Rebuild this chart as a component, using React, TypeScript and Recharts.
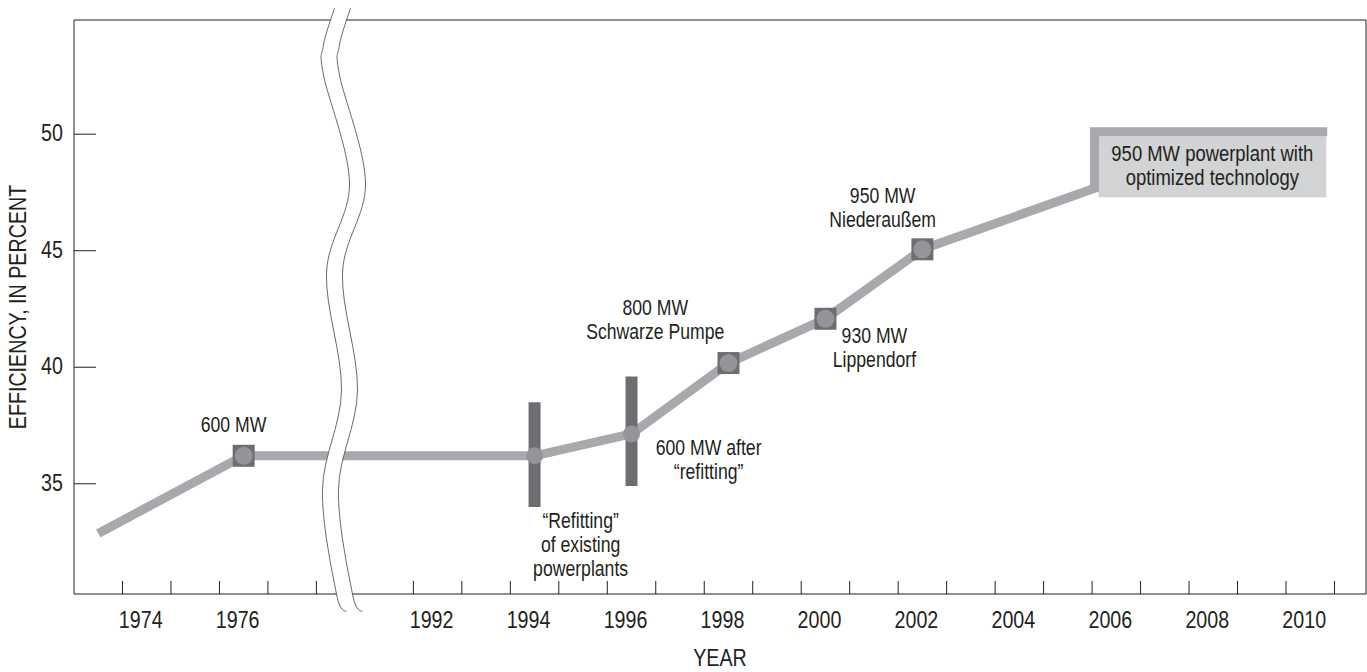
import React from "react";
import {
  ComposedChart,
  ErrorBar,
  Line,
  ReferenceArea,
  ReferenceLine,
  Scatter,
  XAxis,
  YAxis,
} from "recharts";

// no condensed face installed: squeeze Liberation Sans the way Arial Narrow does
const FONT = "'Liberation Sans', Arial, sans-serif";
const SQUEEZE = 0.82;
const INK = "#231f20";
const LINE_GRAY = "#a7a9ac";
const DARK_GRAY = "#6d6e71";
const MID_GRAY = "#939598";
const BOX_GRAY = "#d1d3d4";

// the axis is cut between 1979 and 1990: years after the cut move 12 years left
const CUT_AFTER = 1979;
const CUT_YEARS = 12;
const toAxis = (year: number) => (year > CUT_AFTER ? year - CUT_YEARS : year);

// efficiency line (last three points trace the bracket around the 2006+ box)
const lineYears = [1973, 1976, 1994, 1996, 1998, 2000, 2002, 2005.55, 2005.55, 2010.35];
const lineValues = [32.87, 36.2, 36.2, 37.14, 40.18, 42.08, 45.06, 47.68, 50.1, 50.1];

// new plants (square markers)
const plantYears = [1976, 1998, 2000, 2002];
const plantValues = [36.2, 40.18, 42.08, 45.06];

// refitting (circle markers with range bars)
const refitYears = [1994, 1996];
const refitValues = [36.2, 37.14];
const refitLow = [34.0, 34.9];
const refitHigh = [38.5, 39.6];

// shaded box for the optimized 950 MW plant
const boxYears = [2005.63, 2010.33];
const boxValues = [47.29, 49.91];

const yTicks = [35, 40, 45, 50];
const yearLabels = [1974, 1976, 1992, 1994, 1996, 1998, 2000, 2002, 2004, 2006, 2008, 2010];
const yearMarks = [
  1974, 1975, 1976, 1977, 1978, 1992, 1993, 1994, 1995, 1996, 1997, 1998, 1999, 2000, 2001,
  2002, 2003, 2004, 2005, 2006, 2007, 2008, 2009, 2010, 2011,
];

const noteYears = [1975.79, 1996.49, 2001.18, 2001.01, 1997.59, 1994.95, 2007.98];
const noteValues = [37.54, 42.57, 47.38, 41.37, 36.55, 33.42, 49.2];
const noteTexts = [
  ["600 MW"],
  ["800 MW", "Schwarze Pumpe"],
  ["950 MW", "Niederaußem"],
  ["930 MW", "Lippendorf"],
  ["600 MW after", "\u201crefitting\u201d"],
  ["\u201cRefitting\u201d", "of existing", "powerplants"],
  ["950 MW powerplant with", "optimized technology"],
];

const X_DOMAIN: [number, number] = [1972.5, 1999.15];
const Y_DOMAIN: [number, number] = [30.27, 54.9];
const BREAK_AT = 1978.1;

const lineData = lineYears.map((y, i) => ({ x: toAxis(y), y: lineValues[i] }));
const plantData = plantYears.map((y, i) => ({ x: toAxis(y), y: plantValues[i] }));
const refitData = refitYears.map((y, i) => ({
  x: toAxis(y),
  y: refitValues[i],
  err: [refitValues[i] - refitLow[i], refitHigh[i] - refitValues[i]],
}));
const noteData = noteYears.map((y, i) => ({ x: toAxis(y), y: noteValues[i], lines: noteTexts[i] }));

const labelByTick = new Map(yearLabels.map((y) => [toAxis(y), String(y)]));
const xTicks = [...yearMarks.map((y) => toAxis(y) - 0.5), ...yearLabels.map(toAxis)];

const Narrow = ({ x, y, size, anchor = "middle", rotate = 0, children }: any) => (
  <text
    transform={`translate(${x} ${y}) rotate(${rotate}) scale(${SQUEEZE} 1)`}
    x={0}
    y={0}
    textAnchor={anchor}
    dominantBaseline="central"
    fontSize={size}
    fontFamily={FONT}
    fill={INK}
  >
    {children}
  </text>
);

const XTick = ({ x, y, payload }: any) => {
  const v = payload.value;
  if (Number.isInteger(v)) {
    return (
      <Narrow x={x - 6} y={y + 26} size={24}>
        {labelByTick.get(v)}
      </Narrow>
    );
  }
  return <line x1={x} x2={x} y1={y} y2={y - 13} stroke={INK} strokeWidth={1} />;
};

const LeftTick = ({ x, y, payload }: any) => (
  <g>
    <line x1={x} x2={x + 22} y1={y} y2={y} stroke={INK} strokeWidth={1} />
    <Narrow x={x - 11} y={y - 1} size={24} anchor="end">
      {payload.value}
    </Narrow>
  </g>
);

const RightTick = ({ x, y }: any) => <line x1={x - 21} x2={x} y1={y} y2={y} stroke={INK} strokeWidth={1} />;

const YTitle = ({ viewBox }: any) => (
  <Narrow x={viewBox.x + 18} y={viewBox.y + viewBox.height / 2} size={24} rotate={-90}>
    EFFICIENCY, IN PERCENT
  </Narrow>
);

const XTitle = ({ viewBox }: any) => (
  <Narrow x={viewBox.x + viewBox.width / 2} y={viewBox.y + 64} size={24}>
    YEAR
  </Narrow>
);

const PlantMark = ({ cx, cy }: any) => (
  <g>
    <rect x={cx - 11} y={cy - 11} width={22} height={22} fill={DARK_GRAY} />
    <circle cx={cx} cy={cy} r={9} fill={MID_GRAY} />
  </g>
);

const RefitMark = ({ cx, cy }: any) => <circle cx={cx} cy={cy} r={8.5} fill={MID_GRAY} />;

const NoteText = ({ cx, cy, payload }: any) => {
  const big = payload.lines[0].length > 15;
  return (
    <g>
      {payload.lines.map((t: string, i: number) => (
        <Narrow key={i} x={cx} y={cy + i * (big ? 23.5 : 24)} size={big ? 22.5 : 21.5}>
          {t}
        </Narrow>
      ))}
    </g>
  );
};

// wavy double line marking the axis break (px offsets from the break line top)
const waveDx = [-3, -14, -14, 12, -11, 4, -15, -1, 9];
const waveDy = [-12, 25, 55, 163, 253, 370, 469, 574, 592];
const WAVE_GAP = 16;

const smooth = (pts: number[][]) => {
  let d = `M${pts[0][0]},${pts[0][1]}`;
  for (let i = 0; i < pts.length - 1; i++) {
    const p0 = pts[i - 1] ?? pts[i];
    const p1 = pts[i];
    const p2 = pts[i + 1];
    const p3 = pts[i + 2] ?? p2;
    const c1 = [p1[0] + (p2[0] - p0[0]) / 6, p1[1] + (p2[1] - p0[1]) / 6];
    const c2 = [p2[0] - (p3[0] - p1[0]) / 6, p2[1] - (p3[1] - p1[1]) / 6];
    d += ` C${c1[0]},${c1[1]} ${c2[0]},${c2[1]} ${p2[0]},${p2[1]}`;
  }
  return d;
};

const BreakShape = (props: any) => {
  const x0 = props.x1;
  const top = Math.min(props.y1, props.y2);
  const left = waveDx.map((dx, i) => [x0 + dx - WAVE_GAP / 2, top + waveDy[i]]);
  const right = waveDx.map((dx, i) => [x0 + dx + WAVE_GAP / 2, top + waveDy[i]]);
  const leftPath = smooth(left);
  const rightPath = smooth(right);
  const back = smooth([...right].reverse()).replace(/^M/, "L");
  return (
    <g>
      <path d={`${leftPath} ${back} Z`} fill="#fff" stroke="none" />
      <path d={leftPath} fill="none" stroke="#444" strokeWidth={0.8} />
      <path d={rightPath} fill="none" stroke="#444" strokeWidth={0.8} />
    </g>
  );
};

export default function App() {
  return (
    <div style={{ position: "absolute", left: 0, top: 0, background: "#fff" }}>
      <ComposedChart width={1367} height={672} margin={{ top: 20, right: 1, bottom: 0, left: 0 }}>
        <XAxis
          type="number"
          dataKey="x"
          domain={X_DOMAIN}
          allowDataOverflow
          ticks={xTicks}
          interval={0}
          tick={<XTick />}
          tickLine={false}
          axisLine={false}
          tickSize={0}
          tickMargin={0}
          height={78}
          label={<XTitle />}
        />
        <YAxis
          type="number"
          dataKey="y"
          domain={Y_DOMAIN}
          allowDataOverflow
          ticks={yTicks}
          interval={0}
          tick={<LeftTick />}
          tickLine={false}
          axisLine={false}
          tickSize={0}
          tickMargin={0}
          width={74}
          label={<YTitle />}
        />
        <YAxis
          yAxisId="right"
          orientation="right"
          type="number"
          domain={Y_DOMAIN}
          allowDataOverflow
          ticks={yTicks}
          interval={0}
          tick={<RightTick />}
          tickLine={false}
          axisLine={false}
          tickSize={0}
          tickMargin={0}
          width={0}
        />
        <ReferenceArea
          x1={toAxis(boxYears[0])}
          x2={toAxis(boxYears[1])}
          y1={boxValues[0]}
          y2={boxValues[1]}
          fill={BOX_GRAY}
          fillOpacity={1}
          stroke="none"
        />
        <Line
          data={lineData}
          dataKey="y"
          type="linear"
          stroke={LINE_GRAY}
          strokeWidth={9}
          dot={false}
          activeDot={false}
          isAnimationActive={false}
        />
        <Scatter data={refitData} dataKey="y" shape={<RefitMark />} isAnimationActive={false}>
          <ErrorBar dataKey="err" direction="y" width={0} stroke={DARK_GRAY} strokeWidth={12} isAnimationActive={false} />
        </Scatter>
        <Scatter data={plantData} dataKey="y" shape={<PlantMark />} isAnimationActive={false} />
        <Scatter data={noteData} dataKey="y" shape={<NoteText />} isAnimationActive={false} />
        <ReferenceArea
          x1={X_DOMAIN[0]}
          x2={X_DOMAIN[1]}
          y1={Y_DOMAIN[0]}
          y2={Y_DOMAIN[1]}
          fill="none"
          stroke={INK}
          strokeWidth={1}
        />
        <ReferenceLine x={BREAK_AT} shape={<BreakShape />} />
      </ComposedChart>
    </div>
  );
}
